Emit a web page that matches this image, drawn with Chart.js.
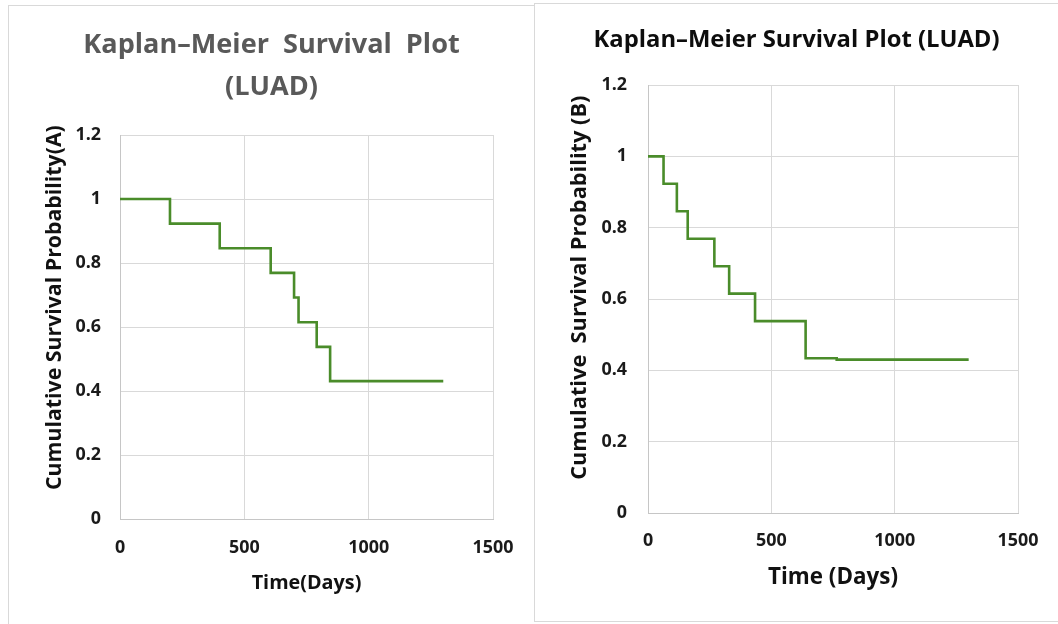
<!DOCTYPE html>
<html>
<head>
<meta charset="utf-8">
<script src="https://cdn.jsdelivr.net/npm/chart.js@4/dist/chart.umd.min.js"></script>
<style>
  html, body { margin: 0; padding: 0; background: #ffffff; width: 1058px; height: 624px; overflow: hidden; }
  .panel { position: absolute; box-sizing: border-box; background: #ffffff; }
  #panelA { left: 8px; top: 5px; width: 526px; height: 630px; border-left: 1px solid #d9d9d9; border-top: 1px solid #d9d9d9; }
  #panelB { left: 534px; top: 3px; width: 530px; height: 619px; border: 1px solid #d9d9d9; }
  .box { position: absolute; left: 0; top: 0; }
  #boxA { width: 525px; height: 618px; }
  #boxB { width: 523px; height: 616px; }
</style>
</head>
<body>
<div class="panel" id="panelA"><div class="box" id="boxA"><canvas id="chartA"></canvas></div></div>
<div class="panel" id="panelB"><div class="box" id="boxB"><canvas id="chartB"></canvas></div></div>
<script>
// ---- Data ----
const timesA = [0, 201, 401, 606, 700, 718, 791, 845, 1300];
const survivalA = [1, 0.923, 0.846, 0.769, 0.692, 0.615, 0.538, 0.431, 0.431];

const timesB = [0, 63, 117, 161, 269, 329, 434, 639, 765, 1300];
const survivalB = [1, 0.923, 0.846, 0.769, 0.692, 0.615, 0.538, 0.434, 0.430, 0.430];

const xTickValues = [0, 500, 1000, 1500];
const xTickLabels = ['0', '500', '1000', '1500'];
const yTickValues = [0, 0.2, 0.4, 0.6, 0.8, 1, 1.2];
const yTickLabels = ['0', '0.2', '0.4', '0.6', '0.8', '1', '1.2'];

const titleA = ['Kaplan\u2013Meier  Survival  Plot', '(LUAD)'];
const titleB = 'Kaplan\u2013Meier Survival Plot (LUAD)';
const xTitleA = 'Time(Days)';
const xTitleB = 'Time (Days)';
const yTitleA = 'Cumulative Survival Probability(A)';
const yTitleB = 'Cumulative  Survival Probability (B)';

const FONT = '"Open Sans"';
const LINE_COLOR = '#4a8c2a';

// size a bold font so that a text spans a given width in pixels
const measureCtx = document.createElement('canvas').getContext('2d');
function fitSize(text, targetWidth) {
  measureCtx.font = 'bold 100px ' + FONT;
  const w = measureCtx.measureText(text).width;
  return Math.round(100 * targetWidth / w * 10) / 10;
}
// leading blank space (drawn first, i.e. at the bottom of a rotated title) to move the text upward
function shiftUp(text, size, px) {
  measureCtx.font = 'bold ' + size + 'px ' + FONT;
  const sp = measureCtx.measureText(' ').width;
  const n = Math.max(0, Math.round(2 * px / sp));
  return ' '.repeat(n) + text;
}

function makePoints(times, surv) {
  return times.map((t, i) => ({ x: t, y: surv[i] }));
}

function makeChart(canvasId, cfg) {
  return new Chart(document.getElementById(canvasId), {
    type: 'scatter',
    data: {
      datasets: [{
        data: makePoints(cfg.times, cfg.surv),
        showLine: true,
        stepped: 'before',
        borderColor: LINE_COLOR,
        backgroundColor: LINE_COLOR,
        borderWidth: 2.6,
        pointRadius: 0,
        pointHoverRadius: 0,
        fill: false
      }]
    },
    options: {
      responsive: true,
      maintainAspectRatio: false,
      animation: false,
      devicePixelRatio: 1,
      layout: { padding: 0 },
      plugins: {
        legend: { display: false },
        tooltip: { enabled: false },
        title: {
          display: true,
          text: cfg.title,
          color: cfg.titleColor,
          font: { family: FONT, size: cfg.titleSize, weight: 'bold', lineHeight: cfg.titleLH },
          padding: { top: cfg.titlePadTop, bottom: cfg.titlePadBottom }
        }
      },
      scales: {
        x: {
          type: 'linear',
          min: 0, max: 1500,
          afterFit: (s) => { s.height = cfg.xHeight; },
          afterBuildTicks: (s) => { s.ticks = xTickValues.map(v => ({ value: v })); },
          ticks: {
            color: '#1a1a1a',
            padding: cfg.xTickPad,
            maxRotation: 0,
            font: { family: FONT, size: cfg.tickSize, weight: 'bold', lineHeight: '20px' },
            callback: (v, i) => xTickLabels[i]
          },
          grid: { color: '#d9d9d9', lineWidth: 1, drawTicks: false },
          border: { color: '#c6c6c6', width: 1 },
          title: {
            display: true,
            text: cfg.xTitle,
            color: '#111111',
            font: { family: FONT, size: cfg.xTitleSize, weight: 'bold', lineHeight: '24px' },
            padding: { top: 0, bottom: cfg.xTitlePadBottom }
          }
        },
        y: {
          type: 'linear',
          min: 0, max: 1.2,
          afterFit: (s) => { s.width = cfg.yWidth; },
          afterBuildTicks: (s) => { s.ticks = yTickValues.map(v => ({ value: v })); },
          ticks: {
            color: '#1a1a1a',
            padding: cfg.yTickPad,
            font: { family: FONT, size: cfg.tickSize, weight: 'bold', lineHeight: '20px' },
            callback: (v, i) => yTickLabels[i]
          },
          grid: { color: '#d9d9d9', lineWidth: 1, drawTicks: false },
          border: { color: '#c6c6c6', width: 1 },
          title: {
            display: true,
            text: shiftUp(cfg.yTitle, cfg.yTitleSize, cfg.yTitleShift),
            color: '#111111',
            font: { family: FONT, size: cfg.yTitleSize, weight: 'bold', lineHeight: '22px' },
            padding: { top: cfg.yTitlePadTop, bottom: 0 }
          }
        },
        // empty right-hand margin box so the chart title stays centred on the whole panel
        margin: {
          type: 'linear',
          position: 'right',
          display: true,
          min: 0, max: 1,
          afterFit: (s) => { s.width = cfg.padRight; },
          ticks: { display: false },
          grid: { display: false, drawTicks: false },
          border: { display: false },
          title: { display: false }
        }
      }
    }
  });
}

const tickSize = fitSize('1500', 41);

const sizeYA = fitSize(yTitleA, 365);
const sizeYB = fitSize(yTitleB, 385);

makeChart('chartA', {
  times: timesA, surv: survivalA,
  title: titleA, titleColor: '#595959', titleSize: fitSize(titleA[0], 377), titleLH: '42px',
  titlePadTop: 18, titlePadBottom: 27,
  padRight: 41, xHeight: 105, yWidth: 111,
  tickSize: tickSize, xTickPad: 19, yTickPad: 19,
  xTitle: xTitleA, xTitleSize: fitSize(xTitleA, 110), xTitlePadBottom: 29,
  yTitle: yTitleA, yTitleSize: sizeYA, yTitleShift: 20, yTitlePadTop: 35
});

makeChart('chartB', {
  times: timesB, surv: survivalB,
  title: titleB, titleColor: '#0d0d0d', titleSize: fitSize(titleB, 406), titleLH: '26px',
  titlePadTop: 23, titlePadBottom: 32,
  padRight: 40, xHeight: 107, yWidth: 113,
  tickSize: tickSize, xTickPad: 18, yTickPad: 21,
  xTitle: xTitleB, xTitleSize: fitSize(xTitleB, 130), xTitlePadBottom: 30,
  yTitle: yTitleB, yTitleSize: sizeYB, yTitleShift: 10, yTitlePadTop: 34
});
</script>
</body>
</html>
